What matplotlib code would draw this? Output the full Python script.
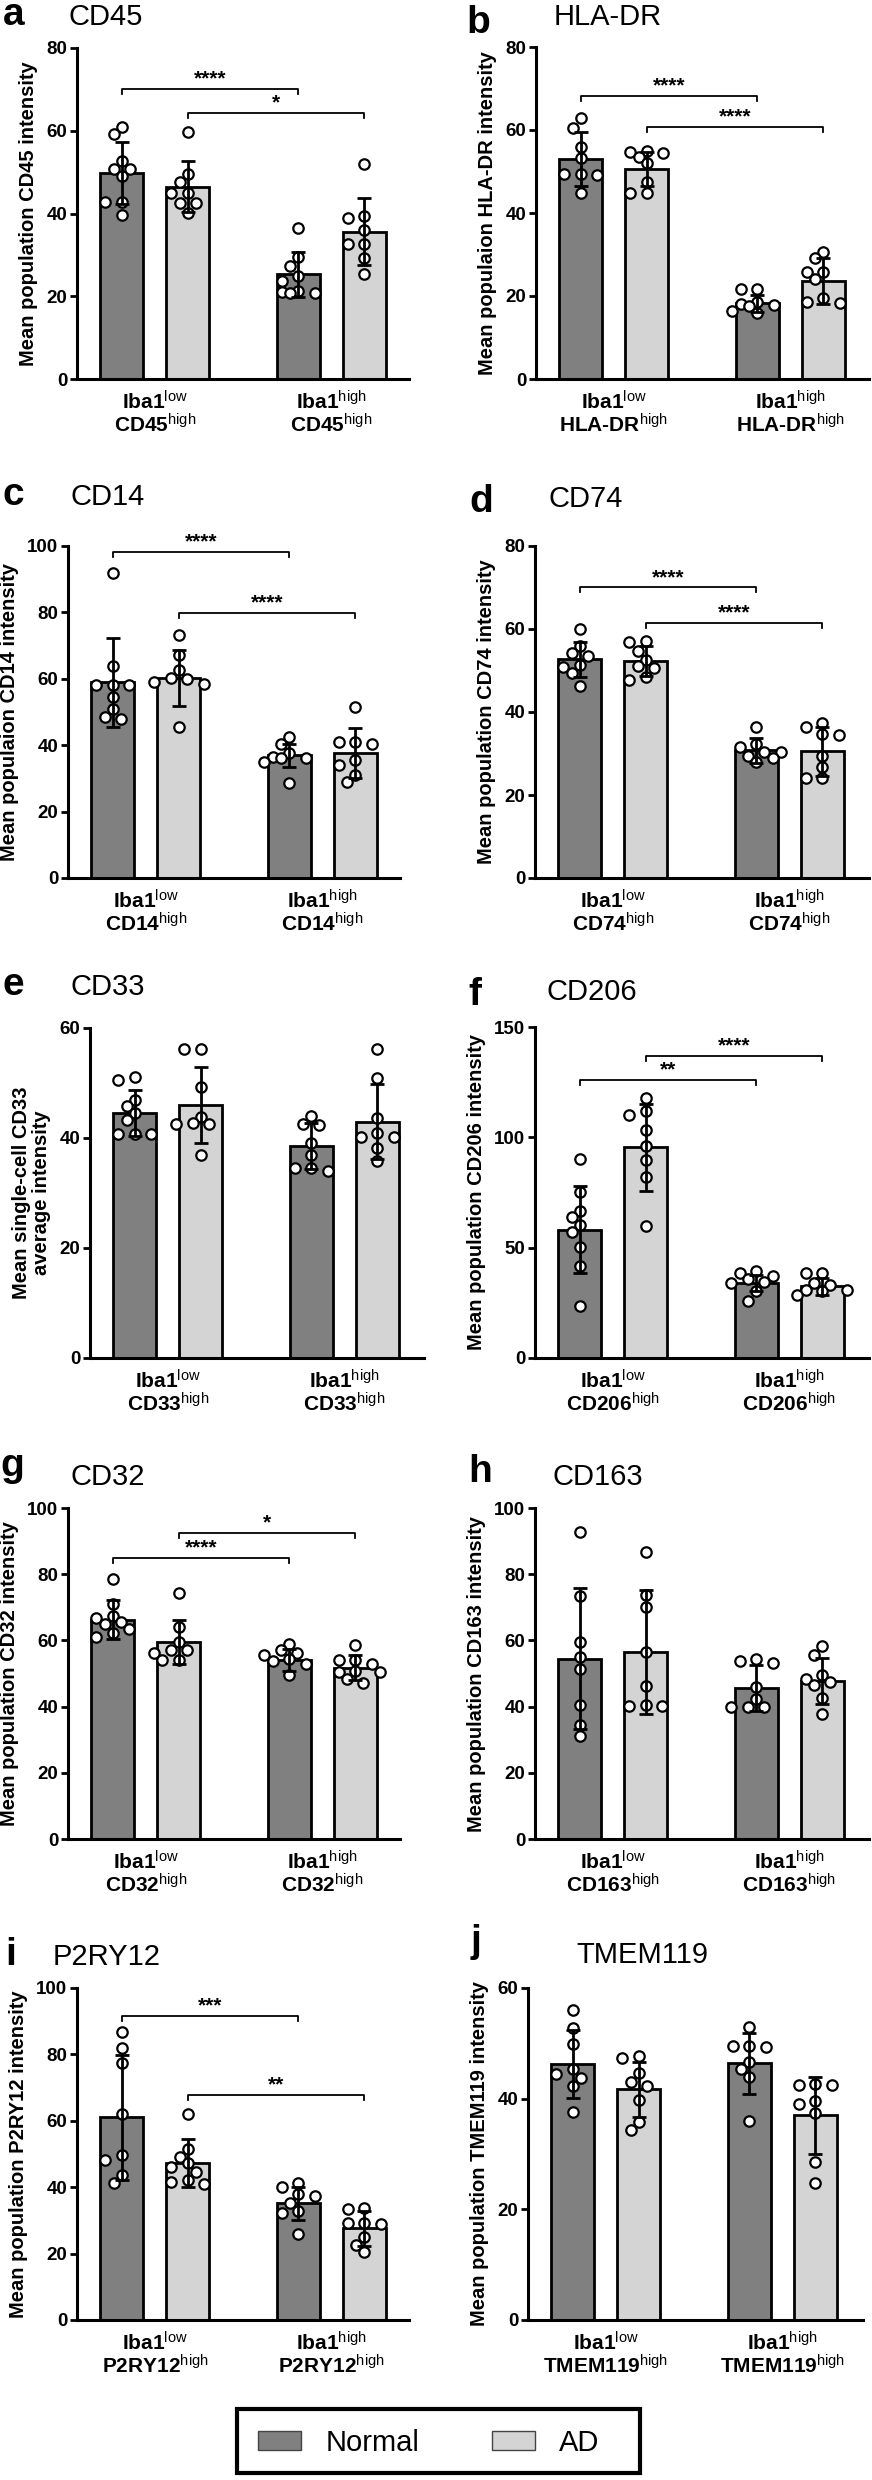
import matplotlib
matplotlib.use("Agg")
import matplotlib.pyplot as plt
from matplotlib.patches import Patch, Rectangle
import numpy as np

plt.rcParams["font.family"] = ["Liberation Sans", "DejaVu Sans"]
plt.rcParams["mathtext.fontset"] = "custom"
plt.rcParams["mathtext.rm"] = "Liberation Sans"
plt.rcParams["mathtext.it"] = "Liberation Sans:italic"
plt.rcParams["mathtext.bf"] = "Liberation Sans:bold"

W, H = 872, 2480

groups = ["Normal", "AD"]
bar_colors = ["#808080", "#d4d4d4"]
markers = ["CD45", "HLA-DR", "CD14", "CD74", "CD33",
           "CD206", "CD32", "CD163", "P2RY12", "TMEM119"]
letters = list("abcdefghij")
ylabels = [
    "Mean population CD45 intensity",
    "Mean populaion HLA-DR intensity",
    "Mean populaion CD14 intensity",
    "Mean population CD74 intensity",
    "Mean single-cell CD33\naverage intensity",
    "Mean population CD206 intensity",
    "Mean population CD32 intensity",
    "Mean population CD163 intensity",
    "Mean population P2RY12 intensity",
    "Mean population TMEM119 intensity",
]
y_max = [80, 80, 100, 80, 60, 150, 100, 100, 100, 60]
y_step = [20, 20, 20, 20, 20, 50, 20, 20, 20, 20]

# bar order: Iba1low Normal, Iba1low AD, Iba1high Normal, Iba1high AD
bar_means = [
    [49.8, 46.5, 25.3, 35.6],
    [53.0, 50.6, 18.2, 23.6],
    [58.9, 60.3, 37.0, 37.7],
    [52.7, 52.3, 30.8, 30.5],
    [44.6, 46.0, 38.6, 43.0],
    [58.2, 95.5, 34.0, 32.5],
    [66.3, 59.6, 54.2, 51.8],
    [54.5, 56.5, 45.7, 47.8],
    [61.0, 47.4, 35.2, 27.6],
    [46.3, 41.7, 46.4, 37.0],
]
bar_sd = [
    [7.4, 6.2, 5.5, 8.1],
    [6.4, 4.2, 2.1, 5.5],
    [13.5, 8.5, 3.5, 7.5],
    [4.2, 3.6, 3.0, 5.9],
    [4.2, 6.9, 4.2, 6.9],
    [19.6, 19.6, 3.8, 3.8],
    [5.8, 6.7, 3.3, 3.7],
    [21.2, 18.7, 7.0, 6.9],
    [18.9, 7.2, 5.0, 5.3],
    [6.2, 5.0, 5.5, 7.0],
]

cd45_pts = [[61.0, 59.2, 52.7, 50.7, 50.7, 49.0, 42.9, 42.9, 39.7],
            [59.6, 49.6, 47.7, 44.9, 44.9, 42.5, 42.5, 40.1],
            [36.6, 29.4, 27.2, 24.8, 23.6, 21.2, 21.1, 20.8, 20.8],
            [51.9, 39.3, 39.0, 36.0, 32.6, 32.6, 29.2, 25.4]]
hladr_pts = [[63.0, 60.6, 56.0, 53.2, 49.4, 49.4, 49.2, 44.9],
             [55.0, 54.8, 54.4, 53.6, 52.0, 47.5, 44.9, 44.9],
             [21.8, 21.8, 18.6, 18.0, 17.8, 17.5, 16.5, 15.8],
             [30.5, 29.1, 25.9, 25.9, 24.0, 19.5, 18.6, 18.4]]
cd14_pts = [[92.0, 63.9, 58.1, 58.1, 58.1, 54.6, 50.8, 48.5, 48.0],
            [73.2, 67.3, 62.8, 60.3, 60.0, 59.0, 58.4, 45.5],
            [42.5, 40.5, 37.5, 36.5, 36.2, 36.0, 35.0, 28.6],
            [51.6, 41.0, 41.0, 40.5, 35.5, 34.0, 31.0, 28.9]]
cd74_pts = [[60.0, 55.9, 54.3, 53.5, 51.3, 50.9, 49.5, 46.3],
            [57.1, 56.8, 54.7, 52.5, 51.0, 50.7, 48.5, 47.8],
            [36.3, 32.4, 31.6, 30.4, 30.4, 29.5, 28.8, 28.0],
            [37.4, 36.4, 34.8, 34.4, 29.3, 26.8, 24.0, 24.0]]
cd33_pts = [[51.1, 50.5, 46.9, 45.8, 44.5, 43.3, 40.8, 40.8, 40.7],
            [56.1, 56.1, 49.2, 43.9, 42.8, 42.6, 42.6, 36.9],
            [44.0, 42.5, 42.3, 39.1, 37.0, 34.5, 34.5, 34.0],
            [56.1, 51.0, 43.6, 41.0, 40.2, 40.2, 38.1, 35.8]]
cd206_pts = [[90.2, 75.1, 66.5, 63.9, 60.4, 57.0, 50.3, 41.8, 23.4],
             [117.8, 112.1, 110.0, 103.2, 95.9, 89.6, 81.9, 59.7],
             [39.6, 38.5, 37.3, 35.8, 34.5, 34.0, 30.2, 26.0],
             [38.5, 38.5, 34.0, 33.0, 31.0, 30.7, 30.2, 28.7]]
cd32_pts = [[78.7, 70.9, 67.5, 66.8, 65.5, 65.1, 63.5, 62.1, 61.1],
            [74.3, 64.1, 59.6, 57.0, 57.0, 56.3, 54.2, 54.0],
            [58.8, 57.0, 56.2, 55.5, 54.5, 53.8, 53.0, 49.5],
            [58.6, 54.2, 54.0, 53.0, 50.8, 50.5, 50.5, 48.2, 47.2]]
cd163_pts = [[92.6, 73.3, 59.6, 55.0, 51.5, 40.6, 34.4, 31.1],
             [86.7, 73.8, 70.1, 56.5, 46.2, 40.4, 40.2, 40.2],
             [54.3, 53.7, 53.2, 46.0, 42.3, 40.0, 39.9, 39.9],
             [58.2, 55.7, 49.5, 48.2, 47.5, 46.5, 42.5, 37.9]]
p2ry12_pts = [[86.7, 81.9, 77.4, 62.0, 49.7, 48.2, 43.7, 41.2],
              [62.1, 51.5, 49.2, 47.4, 46.0, 44.5, 42.2, 41.7, 40.9],
              [41.4, 40.2, 37.9, 37.4, 35.2, 32.7, 32.2, 25.9],
              [33.7, 33.4, 29.1, 29.1, 29.0, 25.1, 22.6, 20.6]]
tmem119_pts = [[56.0, 52.8, 49.9, 45.4, 44.5, 43.7, 42.3, 37.6],
               [47.8, 47.3, 44.6, 43.0, 42.2, 39.8, 35.7, 34.3],
               [52.9, 49.6, 49.6, 49.4, 46.7, 45.4, 44.0, 35.9],
               [42.7, 42.5, 42.5, 39.6, 39.1, 37.5, 28.5, 24.7]]
all_pts = [cd45_pts, hladr_pts, cd14_pts, cd74_pts, cd33_pts,
           cd206_pts, cd32_pts, cd163_pts, p2ry12_pts, tmem119_pts]

# (bar from, bar to, height, label)
sig_brackets = [
    [(0, 2, 70.2, "****"), (1, 3, 64.3, "*")],
    [(0, 2, 68.2, "****"), (1, 3, 60.7, "****")],
    [(0, 2, 98.3, "****"), (1, 3, 79.9, "****")],
    [(0, 2, 70.0, "****"), (1, 3, 61.5, "****")],
    [],
    [(1, 3, 137.0, "****"), (0, 2, 126.0, "**")],
    [(1, 3, 92.5, "*"), (0, 2, 85.0, "****")],
    [],
    [(0, 2, 91.7, "***"), (1, 3, 67.7, "**")],
    [],
]

bar_x = [0, 1, 2.67, 3.67]

# layout in pixels: left, top, right, bottom
axes_px = [(77, 48, 409, 379), (536, 47, 869, 379),
           (68, 546, 400, 878), (535, 546, 869, 878),
           (90, 1028, 424, 1358), (535, 1027, 869, 1358),
           (68, 1508, 400, 1839), (535, 1508, 869, 1839),
           (77, 1988, 409, 2320), (528, 1988, 863, 2320)]
title_px = [(68, 25), (554, 25), (70, 505), (549, 507), (70, 995),
            (546, 1000), (70, 1485), (553, 1485), (53, 1965), (576, 1963)]
letter_px = [(3, 25), (466, 33), (2, 505), (469, 512), (2, 995),
             (468, 1005), (0, 1476), (468, 1482), (5, 1965), (471, 1952)]


def swarm(ax, xc, vals, dist=10.0, step=8.3, kmax=3):
    # GraphPad-like scatter: shift overlapping points sideways, capped width
    x0 = ax.transData.transform((0, 0))[0]
    xpx = ax.transData.transform((1, 0))[0] - x0
    cands = [0]
    for n in range(1, kmax + 1):
        cands += [-n * step, n * step]
    placed = []
    xs = []
    for v in vals:
        yp = ax.transData.transform((xc, v))[1]
        best, best_d = 0, -1
        for off in cands:
            d = min([np.hypot(off - px, yp - py) for px, py in placed] or [99])
            if d >= dist:
                best = off
                break
            if d > best_d:
                best, best_d = off, d
        placed.append((best, yp))
        xs.append(xc + best / xpx)
    return xs


fig = plt.figure(figsize=(W / 100, H / 100), dpi=100)

for i in range(10):
    l, t, r, b = axes_px[i]
    ax = fig.add_axes([l / W, 1 - b / H, (r - l) / W, (b - t) / H])
    ax.set_xlim(-0.68, -0.68 + (r - l) / 66.0)
    ax.set_ylim(0, y_max[i])
    ax.bar(bar_x, bar_means[i], width=0.65, color=bar_colors * 2,
           edgecolor="black", linewidth=2, zorder=1)
    for j in range(4):
        xs = swarm(ax, bar_x[j], all_pts[i][j])
        ax.plot(xs, all_pts[i][j], "o", ms=7.5, mfc="white", mec="black",
                mew=1.6, zorder=3, clip_on=False)
    ax.errorbar(bar_x, bar_means[i], yerr=bar_sd[i], fmt="none", ecolor="black",
                elinewidth=2, capsize=5, capthick=2, zorder=4)

    drop = y_max[i] * 5 / (b - t)
    for a0, a1, yb, lab in sig_brackets[i]:
        ax.plot([bar_x[a0], bar_x[a0], bar_x[a1], bar_x[a1]],
                [yb - drop, yb, yb, yb - drop], color="black", lw=1.3,
                clip_on=False, zorder=5)
        ax.text((bar_x[a0] + bar_x[a1]) / 2, yb + drop * 0.1, lab,
                ha="center", va="bottom", fontsize=15, fontweight="bold")

    for s in ["top", "right"]:
        ax.spines[s].set_visible(False)
    for s in ["left", "bottom"]:
        ax.spines[s].set_linewidth(2.2)
    ax.set_yticks(np.arange(0, y_max[i] + 1, y_step[i]))
    ax.tick_params(axis="y", length=5, width=2, labelsize=13.5, pad=2)
    for tl in ax.get_yticklabels():
        tl.set_fontweight("bold")
    m = markers[i]
    ax.set_xticks([0.5, 3.17])
    ax.set_xticklabels([r"Iba1$^{\mathrm{low}}$" + "\n" + m + r"$^{\mathrm{high}}$",
                        r"Iba1$^{\mathrm{high}}$" + "\n" + m + r"$^{\mathrm{high}}$"],
                       fontsize=15, fontweight="bold", linespacing=1.0)
    ax.tick_params(axis="x", length=0, pad=8)
    ax.set_ylabel(ylabels[i], fontsize=14.5, fontweight="bold", labelpad=6,
                  linespacing=1.1)

    fig.text(title_px[i][0] / W, 1 - title_px[i][1] / H, markers[i],
             fontsize=21, va="baseline", ha="left")
    fig.text(letter_px[i][0] / W, 1 - letter_px[i][1] / H, letters[i],
             fontsize=28, fontweight="bold", va="baseline", ha="left")

# legend box drawn as a figure rectangle, entries via legend without frame
fig.add_artist(Rectangle((237 / W, 1 - 2473 / H), (640 - 237) / W, (2473 - 2409) / H,
                         transform=fig.transFigure, fill=False, edgecolor="black",
                         linewidth=3))
handles = [Patch(facecolor=c, edgecolor="#444444", linewidth=1) for c in bar_colors]
fig.legend(handles, groups, loc="center", bbox_to_anchor=(429 / W, 1 - 2443 / H),
           ncol=2, frameon=False, fontsize=21, handlelength=1.45, handleheight=0.6,
           handletextpad=0.85, columnspacing=2.5, borderpad=0.0)

fig.savefig("out.png", dpi=100)
